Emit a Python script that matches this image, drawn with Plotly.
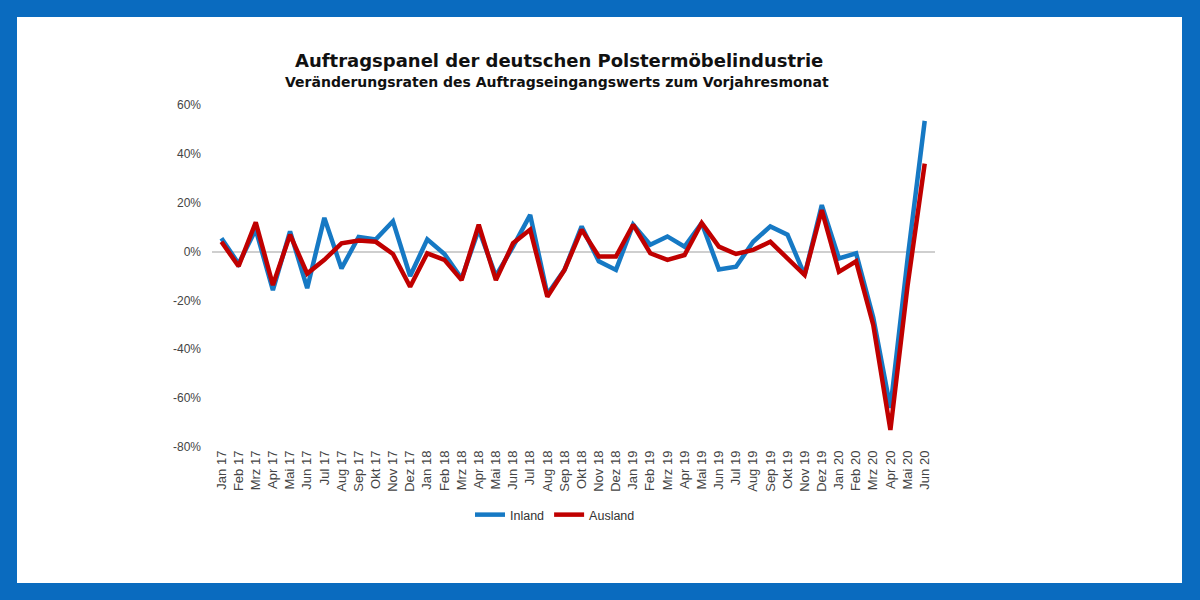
import plotly.graph_objects as go

months = ['Jan 17', 'Feb 17', 'Mrz 17', 'Apr 17', 'Mai 17', 'Jun 17', 'Jul 17', 'Aug 17', 'Sep 17', 'Okt 17', 'Nov 17', 'Dez 17',
          'Jan 18', 'Feb 18', 'Mrz 18', 'Apr 18', 'Mai 18', 'Jun 18', 'Jul 18', 'Aug 18', 'Sep 18', 'Okt 18', 'Nov 18', 'Dez 18',
          'Jan 19', 'Feb 19', 'Mrz 19', 'Apr 19', 'Mai 19', 'Jun 19', 'Jul 19', 'Aug 19', 'Sep 19', 'Okt 19', 'Nov 19', 'Dez 19',
          'Jan 20', 'Feb 20', 'Mrz 20', 'Apr 20', 'Mai 20', 'Jun 20']

# Veränderung zum Vorjahresmonat in %
inland = [5.5, -5, 9, -15.8, 8.3, -15, 13.8, -6.9, 6, 5, 12.4, -10,
          5, -1, -11, 9, -10, 2, 15, -17.5, -7.5, 10.3, -4, -7.5,
          11, 2.8, 6.2, 2, 11.7, -7.3, -6.2, 4, 10.3, 6.9, -9.6, 19,
          -2.8, -0.7, -27, -64, -3, 53.5]
ausland = [4, -6, 12, -13.7, 6.9, -9, -3.4, 3.4, 4.5, 4, -1, -14.4,
           -0.7, -3.4, -11.7, 11, -11.7, 3.4, 9, -18.5, -7.5, 9, -2, -2,
           11, -0.7, -3.4, -1.4, 11.7, 2, -1, 0.7, 4, -2.8, -9.6, 17,
           -8.3, -4, -30, -73, -14, 36]

y_ticks = [-80, -60, -40, -20, 0, 20, 40, 60]
y_labels = ['-80%', '-60%', '-40%', '-20%', '0%', '20%', '40%', '60%']

frame_blue = '#0a6bbf'
font = 'Liberation Sans, Arial, sans-serif'
title_font = 'DejaVu Sans, Arial, sans-serif'

fig = go.Figure()
fig.add_trace(go.Scatter(x=months, y=inland, name='Inland', mode='lines',
                         line=dict(color='#1679c4', width=4.5)))
fig.add_trace(go.Scatter(x=months, y=ausland, name='Ausland', mode='lines',
                         line=dict(color='#c00000', width=4.5)))

# plot area is 212..935 px wide, 105..447 px high -> convert page px to paper coords
def px_x(p):
    return (p - 212) / 723

def px_y(p):
    return (447 - p) / 342

# white card inside the blue frame
fig.add_shape(type='rect', xref='paper', yref='paper', layer='below',
              x0=px_x(17), x1=px_x(1182), y0=px_y(583), y1=px_y(17),
              fillcolor='white', line=dict(width=0))

fig.add_annotation(text='<b>Auftragspanel der deutschen Polstermöbelindustrie</b>',
                   xref='paper', yref='paper', x=px_x(559), y=px_y(60), yanchor='middle',
                   showarrow=False, font=dict(family=title_font, size=18, color='#111'))
fig.add_annotation(text='<b>Veränderungsraten des Auftragseingangswerts zum Vorjahresmonat</b>',
                   xref='paper', yref='paper', x=px_x(557), y=px_y(82), yanchor='middle',
                   showarrow=False, font=dict(family=title_font, size=14, color='#111'))

fig.update_layout(
    width=1200, height=600,
    margin=dict(l=212, r=265, t=105, b=153),
    paper_bgcolor=frame_blue,
    plot_bgcolor='rgba(0,0,0,0)',
    font=dict(family=font, color='#333'),
    showlegend=True,
    legend=dict(orientation='h', x=px_x(555), y=px_y(515), xanchor='center', yanchor='middle',
                font=dict(size=12.5, color='#333'), bgcolor='rgba(0,0,0,0)',
                itemwidth=30, tracegroupgap=0),
)
fig.update_xaxes(tickangle=-90, tickfont=dict(size=13, color='#444'), showgrid=False,
                 showline=False, range=[-0.55, 41.6], ticks='')
fig.update_yaxes(range=[-80, 60], tickvals=y_ticks, ticktext=y_labels,
                 tickfont=dict(size=12, color='#444'),
                 showgrid=False, zeroline=True, zerolinecolor='#cfcfcf', zerolinewidth=1.5,
                 ticklabelstandoff=10)

fig.write_html('out.html', config={'displayModeBar': False},
               post_script="document.body.style.margin='0';")
